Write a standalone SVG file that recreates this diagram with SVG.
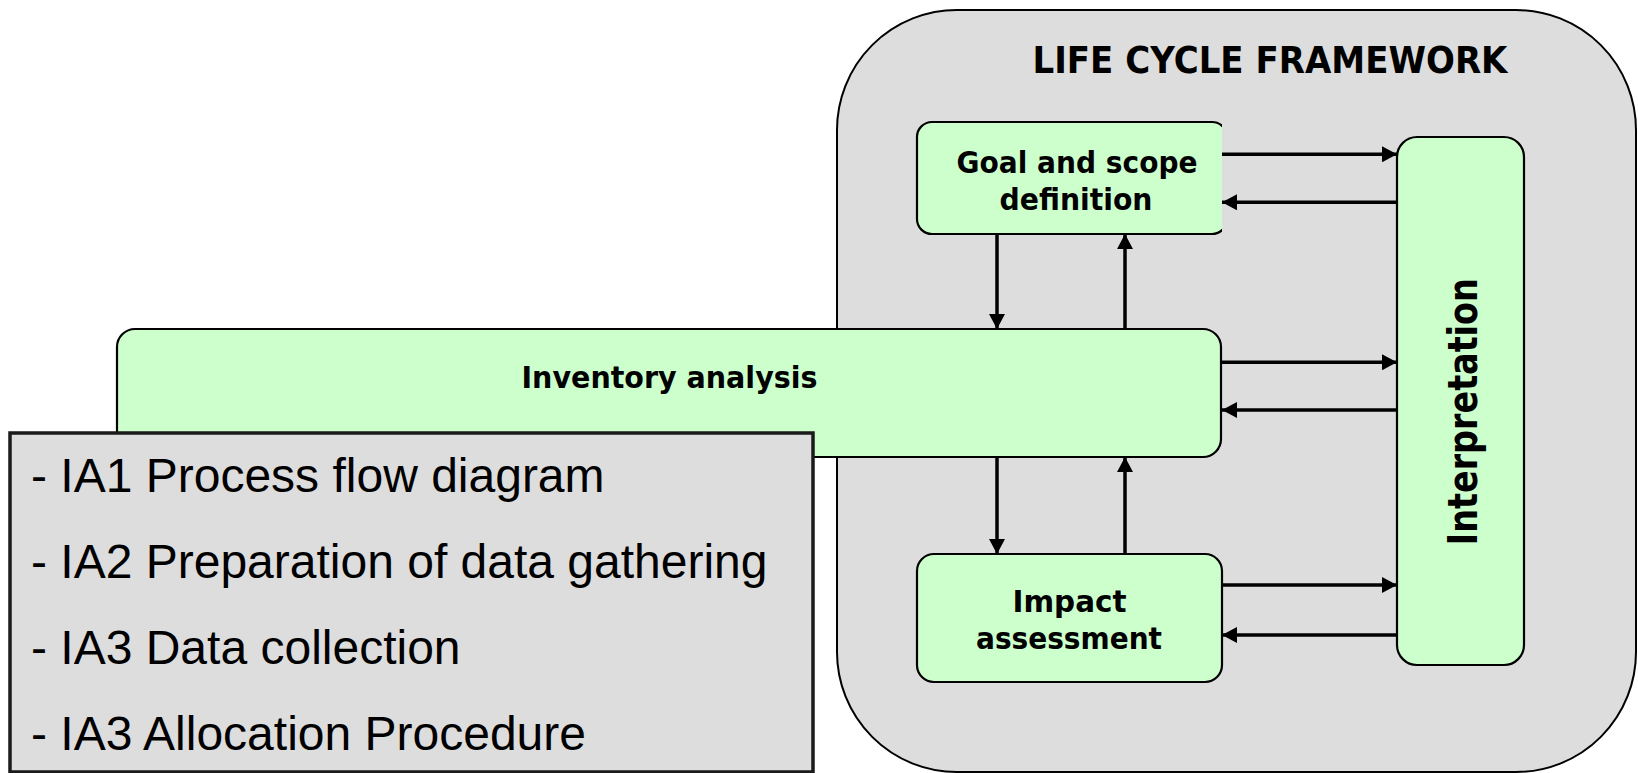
<svg xmlns="http://www.w3.org/2000/svg" width="1638" height="773" viewBox="0 0 1638 773">
  <style>
    .frame { fill: #dddddd; stroke: #000000; stroke-width: 2; }
    .node { fill: #ccffcc; stroke: #000000; stroke-width: 2.2; }
    .list { fill: #dddddd; stroke: #1a1a1a; stroke-width: 3.5; }
    .lbl { font-family: "DejaVu Sans", Verdana, sans-serif; font-weight: bold; font-size: 30px; fill: #000000; text-anchor: middle; }
    .title { font-family: "DejaVu Sans", Verdana, sans-serif; font-weight: bold; font-size: 38px; fill: #000000; text-anchor: middle; }
    .item { font-family: "Liberation Sans", Arial, sans-serif; font-size: 48px; fill: #000000; }
    .conn path { fill: none; stroke: #000000; stroke-width: 3.5; marker-end: url(#arrow); }
  </style>
  <defs>
    <marker id="arrow" markerUnits="userSpaceOnUse" markerWidth="15" markerHeight="16" viewBox="0 0 15 16" refX="15" refY="8" orient="auto">
      <path d="M0,0 L15,8 L0,16 Z" fill="#000000"/>
    </marker>
    <clipPath id="goalClip">
      <rect x="900" y="100" width="322" height="160"/>
    </clipPath>
  </defs>

  <rect x="0" y="0" width="1638" height="773" fill="#ffffff"/>

  <!-- life cycle framework container -->
  <g id="framework">
    <rect class="frame" x="837" y="10" width="799" height="762" rx="120" ry="120"/>
    <text class="title" x="1270" y="72.7" textLength="475" lengthAdjust="spacingAndGlyphs">LIFE CYCLE FRAMEWORK</text>
  </g>

  <g id="goal-scope">
    <rect class="node" x="917" y="122" width="310" height="112" rx="15" ry="15" clip-path="url(#goalClip)"/>
    <text class="lbl" x="1077" y="172.7" textLength="241" lengthAdjust="spacingAndGlyphs">Goal and scope</text>
    <text class="lbl" x="1076" y="210" textLength="153" lengthAdjust="spacingAndGlyphs">definition</text>
  </g>

  <g id="inventory-analysis">
    <rect class="node" x="117" y="329" width="1104" height="128" rx="18" ry="18"/>
    <text class="lbl" x="669.5" y="388.3" textLength="296" lengthAdjust="spacingAndGlyphs">Inventory analysis</text>
  </g>

  <g id="impact-assessment">
    <rect class="node" x="917" y="554" width="305" height="128" rx="17" ry="17"/>
    <text class="lbl" x="1069.5" y="611.7" textLength="114" lengthAdjust="spacingAndGlyphs">Impact</text>
    <text class="lbl" x="1069" y="649.3" textLength="186" lengthAdjust="spacingAndGlyphs">assessment</text>
  </g>

  <g id="interpretation">
    <rect class="node" x="1397" y="137" width="127" height="528" rx="20" ry="20"/>
    <text class="lbl" transform="translate(1477.3,411.7) rotate(-90)" x="0" y="0" style="font-size:40px" textLength="267" lengthAdjust="spacingAndGlyphs">Interpretation</text>
  </g>

  <!-- inventory analysis steps -->
  <g id="inventory-steps">
    <rect class="list" x="10" y="433" width="803" height="339"/>
    <text class="item" x="31" y="491.7">- IA1 Process flow diagram</text>
    <text class="item" x="31" y="578.3">- IA2 Preparation of data gathering</text>
    <text class="item" x="31" y="664.3">- IA3 Data collection</text>
    <text class="item" x="31" y="750">- IA3 Allocation Procedure</text>
  </g>

  <g id="connectors" class="conn">
    <path d="M1222,154.3 H1397"/>
    <path d="M1397,202.3 H1222"/>
    <path d="M997,234 V329"/>
    <path d="M1125,329 V234"/>
    <path d="M1222,362.3 H1397"/>
    <path d="M1397,410 H1222"/>
    <path d="M997,457 V554"/>
    <path d="M1125,554 V457"/>
    <path d="M1222,585 H1397"/>
    <path d="M1397,635 H1222"/>
  </g>
</svg>
